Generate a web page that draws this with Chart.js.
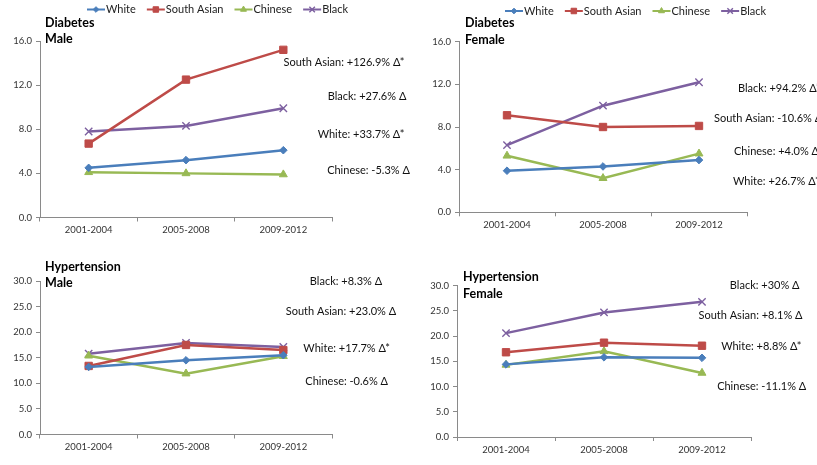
<!DOCTYPE html>
<html>
<head>
<meta charset="utf-8">
<script src="https://cdn.jsdelivr.net/npm/chart.js@4.4.1/dist/chart.umd.min.js"></script>
<style>
  html, body { margin: 0; padding: 0; background: #fff; }
  #board { position: relative; width: 817px; height: 465px; overflow: hidden; background: #fff; }
  #board canvas { position: absolute; left: 0; top: 0; }
</style>
</head>
<body>
<div id="board">
  <canvas id="diabetesMaleChart" width="817" height="465"></canvas>
  <canvas id="diabetesFemaleChart" width="817" height="465"></canvas>
  <canvas id="hypertensionMaleChart" width="817" height="465"></canvas>
  <canvas id="hypertensionFemaleChart" width="817" height="465"></canvas>
</div>
<script>
// ---- data -------------------------------------------------------------
const periods = ['2001-2004', '2005-2008', '2009-2012'];
const groups = ['White', 'South Asian', 'Chinese', 'Black'];

// Diabetes prevalence (%), men
const dmWhite = [4.5, 5.2, 6.1];
const dmSouthAsian = [6.7, 12.5, 15.2];
const dmChinese = [4.1, 4.0, 3.9];
const dmBlack = [7.8, 8.3, 9.9];

// Diabetes prevalence (%), women
const dfWhite = [3.9, 4.3, 4.9];
const dfSouthAsian = [9.1, 8.0, 8.1];
const dfChinese = [5.3, 3.2, 5.5];
const dfBlack = [6.3, 10.0, 12.2];

// Hypertension prevalence (%), men
const hmWhite = [13.2, 14.5, 15.5];
const hmSouthAsian = [13.4, 17.5, 16.5];
const hmChinese = [15.4, 11.9, 15.3];
const hmBlack = [15.8, 17.9, 17.1];

// Hypertension prevalence (%), women
const hfWhite = [14.4, 15.8, 15.7];
const hfSouthAsian = [16.8, 18.7, 18.1];
const hfChinese = [14.3, 17.0, 12.7];
const hfBlack = [20.6, 24.7, 26.8];

// y-axis ticks
const diabetesTicks = [0, 4, 8, 12, 16];
const hypertensionTicks = [0, 5, 10, 15, 20, 25, 30];

// change labels beside each panel
const dmNotes = ['South Asian: +126.9% Δ*', 'Black: +27.6% Δ', 'White: +33.7% Δ*', 'Chinese: -5.3% Δ'];
const dfNotes = ['Black: +94.2% Δ*', 'South Asian: -10.6% Δ', 'Chinese: +4.0% Δ', 'White: +26.7% Δ*'];
const hmNotes = ['Black: +8.3% Δ', 'South Asian: +23.0% Δ', 'White: +17.7% Δ*', 'Chinese: -0.6% Δ'];
const hfNotes = ['Black: +30% Δ', 'South Asian: +8.1% Δ', 'White: +8.8% Δ*', 'Chinese: -11.1% Δ'];

// ---- styling ----------------------------------------------------------
const FONT = 'Lato, "Liberation Sans", sans-serif';
const seriesStyle = {
  'White':       { color: '#4A7EBB', pointStyle: 'rectRot',  radius: 3.8, border: 1 },
  'South Asian': { color: '#BE4B48', pointStyle: 'rect',     radius: 5.2, border: 1 },
  'Chinese':     { color: '#98B954', pointStyle: 'triangle', radius: 4.6, border: 1 },
  'Black':       { color: '#7D60A0', pointStyle: 'crossRot', radius: 5.2, border: 1.4 }
};

const W = 817, H = 465;
const YW = 30;   // room for y tick labels
const XH = 20;   // room for x tick labels

// panel text: headings, change notes and legend strip
const panelText = {
  id: 'panelText',
  afterDraw(chart, args, o) {
    const ctx = chart.ctx;
    const a = chart.chartArea;
    ctx.save();
    ctx.textBaseline = 'middle';

    ctx.fillStyle = '#000';
    ctx.textAlign = 'left';
    ctx.font = 'bold 12.5px ' + FONT;
    o.heading.forEach((line, i) => ctx.fillText(line, a.left + o.headingDx, a.top + o.headingDy[i]));

    ctx.fillStyle = '#111';
    ctx.font = '11px ' + FONT;
    ctx.textAlign = o.noteAlign;
    o.notes.forEach((t, i) => ctx.fillText(t, o.noteX[i], o.noteY[i]));

    if (o.legend) {
      let x = a.left + o.legend.dx;
      const y = o.legend.y;
      ctx.font = '11px ' + FONT;
      ctx.textAlign = 'left';
      chart.data.datasets.forEach(ds => {
        ctx.strokeStyle = ds.borderColor;
        ctx.lineWidth = 2;
        ctx.beginPath();
        ctx.moveTo(x, y);
        ctx.lineTo(x + 18, y);
        ctx.stroke();
        ctx.fillStyle = ds.pointBackgroundColor;
        ctx.strokeStyle = ds.pointBorderColor;
        ctx.lineWidth = ds.pointBorderWidth;
        Chart.helpers.drawPoint(ctx, {
          pointStyle: ds.pointStyle, radius: ds.pointRadius * 0.75,
          borderWidth: ds.pointBorderWidth, rotation: 0
        }, x + 9, y);
        ctx.fillStyle = '#222';
        ctx.fillText(ds.label, x + 19, y);
        x += 19 + ctx.measureText(ds.label).width + 11;
      });
    }
    ctx.restore();
  }
};

function makeDatasets(values) {
  return groups.map((g, i) => {
    const s = seriesStyle[g];
    return {
      label: g,
      data: values[i],
      borderColor: s.color,
      backgroundColor: s.color,
      borderWidth: 2.5,
      pointStyle: s.pointStyle,
      pointRadius: s.radius,
      pointHoverRadius: s.radius,
      pointBackgroundColor: s.color,
      pointBorderColor: s.color,
      pointBorderWidth: s.border,
      tension: 0
    };
  });
}

function buildPanel(id, values, ticks, area, text) {
  const stepSize = ticks[1] - ticks[0];
  new Chart(document.getElementById(id), {
    type: 'line',
    data: { labels: periods, datasets: makeDatasets(values) },
    plugins: [panelText],
    options: {
      responsive: false,
      animation: false,
      events: [],
      layout: {
        padding: {
          left: area.left - YW,
          top: area.top,
          right: W - area.right,
          bottom: H - area.bottom - XH
        }
      },
      plugins: {
        legend: { display: false },
        tooltip: { enabled: false },
        panelText: text
      },
      scales: {
        x: {
          type: 'category',
          offset: true,
          afterFit: s => { s.height = XH; },
          grid: { display: true, offset: true, drawOnChartArea: false, drawTicks: true, tickLength: 4, color: '#8a8a8a' },
          border: { display: true, color: '#8a8a8a', width: 1 },
          ticks: { color: '#333', font: { family: FONT, size: 9.5 }, padding: 3, maxRotation: 0, autoSkip: false }
        },
        y: {
          min: ticks[0],
          max: ticks[ticks.length - 1],
          afterFit: s => { s.width = YW; },
          grid: { display: true, drawOnChartArea: false, drawTicks: true, tickLength: 4, color: '#8a8a8a' },
          border: { display: true, color: '#8a8a8a', width: 1 },
          ticks: {
            stepSize: stepSize,
            color: '#333',
            font: { family: FONT, size: 9.5 },
            padding: 4,
            callback: v => Number(v).toFixed(1)
          }
        }
      }
    }
  });
}

buildPanel('diabetesMaleChart',
  [dmWhite, dmSouthAsian, dmChinese, dmBlack], diabetesTicks,
  { left: 40, top: 41, right: 332, bottom: 217.5 },
  {
    heading: ['Diabetes', 'Male'], headingDx: 5, headingDy: [-18.5, -2.5],
    notes: dmNotes, noteAlign: 'center',
    noteX: [344, 367, 361, 368.5], noteY: [62, 96, 134, 170],
    legend: { dx: 47, y: 9.5 }
  });

buildPanel('diabetesFemaleChart',
  [dfWhite, dfSouthAsian, dfChinese, dfBlack], diabetesTicks,
  { left: 459, top: 41.7, right: 747, bottom: 212.3 },
  {
    heading: ['Diabetes', 'Female'], headingDx: 6, headingDy: [-18.5, -1.5],
    notes: dfNotes, noteAlign: 'left',
    noteX: [738, 714, 734, 733], noteY: [88.3, 118.3, 151.7, 181.7],
    legend: { dx: 46, y: 11 }
  });

buildPanel('hypertensionMaleChart',
  [hmWhite, hmSouthAsian, hmChinese, hmBlack], hypertensionTicks,
  { left: 40, top: 281, right: 332, bottom: 434.5 },
  {
    heading: ['Hypertension', 'Male'], headingDx: 5, headingDy: [-14.5, 2.3],
    notes: hmNotes, noteAlign: 'center',
    noteX: [346, 341, 346.7, 346.7], noteY: [281.7, 311.7, 348.3, 381.7]
  });

buildPanel('hypertensionFemaleChart',
  [hfWhite, hfSouthAsian, hfChinese, hfBlack], hypertensionTicks,
  { left: 457, top: 285.7, right: 751, bottom: 437 },
  {
    heading: ['Hypertension', 'Female'], headingDx: 6, headingDy: [-8.4, 8.6],
    notes: hfNotes, noteAlign: 'center',
    noteX: [764.7, 750.5, 761.3, 761.7], noteY: [285.7, 315.7, 346.7, 386.7]
  });
</script>
</body>
</html>
